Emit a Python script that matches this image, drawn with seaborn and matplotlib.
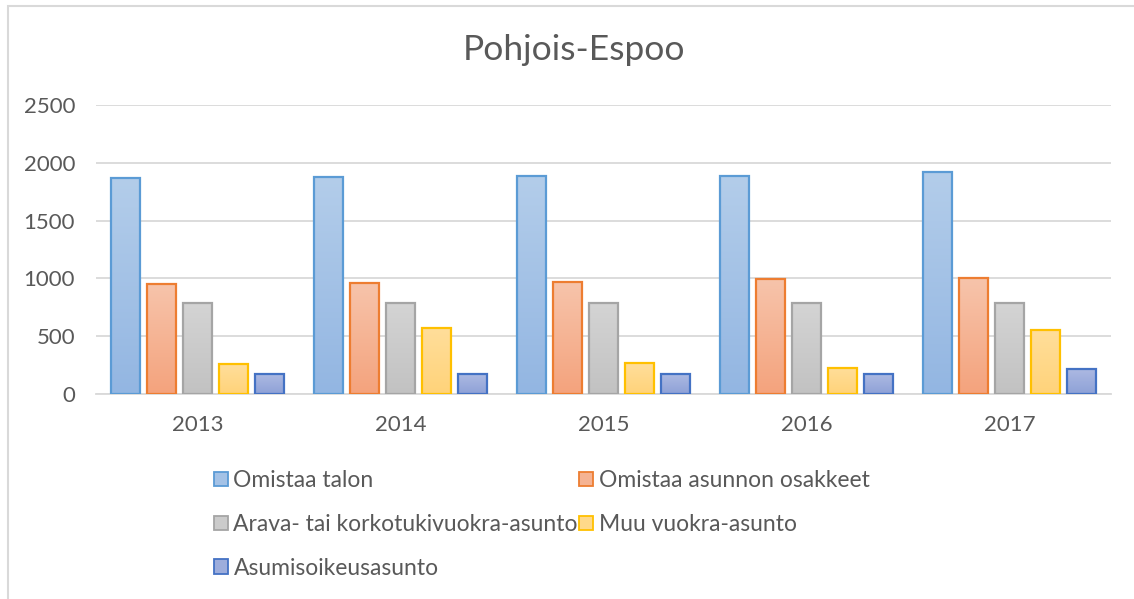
import numpy as np
import pandas as pd
import matplotlib
matplotlib.use("Agg")
import matplotlib.pyplot as plt
import matplotlib.colors as mcolors
from matplotlib.patches import Rectangle, Patch
import seaborn as sns

years = ["2013", "2014", "2015", "2016", "2017"]
series = ["Omistaa talon", "Omistaa asunnon osakkeet", "Arava- tai korkotukivuokra-asunto",
          "Muu vuokra-asunto", "Asumisoikeusasunto"]
omistaa_talon = [1865, 1879, 1882, 1882, 1922]
omistaa_osakkeet = [955, 964, 972, 998, 1007]
arava = [791, 791, 791, 791, 791]
muu_vuokra = [256, 567, 264, 227, 553]
asumisoikeus = [173, 173, 173, 173, 212]
yticks = [0, 500, 1000, 1500, 2000, 2500]
title = "Pohjois-Espoo"

fill_top = ["#B3CDEA", "#F7C4AB", "#D4D4D4", "#FFDE9A", "#ACB9E2"]
fill_bot = ["#93B6E2", "#F4A37D", "#C2C2C2", "#FFD37A", "#8EA1D7"]
fill_mid = ["#A4C2E6", "#F5B393", "#CBCBCB", "#FFD98A", "#9DADDC"]
edges = ["#5B9BD5", "#ED7D31", "#A5A5A5", "#FFC000", "#4472C4"]
text_col = "#595959"
grid_col = "#D9D9D9"

values = [omistaa_talon, omistaa_osakkeet, arava, muu_vuokra, asumisoikeus]
df = pd.DataFrame({
    "year": [y for s in series for y in years],
    "series": [s for s in series for _ in years],
    "value": [v for vals in values for v in vals],
})

sns.set_theme(style="white")
plt.rcParams["font.family"] = ["Lato", "DejaVu Sans"]

fig = plt.figure(figsize=(11.34, 5.99), dpi=100)
ax = fig.add_axes([96 / 1134, 1 - 394 / 599, (1111 - 96) / 1134, (394 - 105) / 599])

sns.barplot(data=df, x="year", y="value", hue="series", hue_order=series, order=years,
            palette=fill_mid, width=0.887, gap=0.17, ax=ax, legend=False, zorder=2)

ax.set_ylim(0, 2500)
xlim = ax.get_xlim()
for i, cont in enumerate(ax.containers):
    cmap = mcolors.LinearSegmentedColormap.from_list("g", [fill_top[i], fill_bot[i]])
    grad = cmap(np.linspace(0, 1, 64))[:, None, :3]
    for p in cont.patches:
        p.set_edgecolor(edges[i])
        p.set_linewidth(1.6)
        p.set_facecolor("none")
        p.set_zorder(3)
        x0, y0, w, h = p.get_x(), p.get_y(), p.get_width(), p.get_height()
        im = ax.imshow(grad, extent=[x0, x0 + w, y0, y0 + h], origin="upper",
                       aspect="auto", interpolation="bilinear", zorder=2)
        im.set_clip_path(p)
ax.set_xlim(xlim)
ax.set_ylim(0, 2500)

ax.set_yticks(yticks)
ax.set_yticklabels([str(t) for t in yticks])
ax.yaxis.grid(True, color=grid_col, linewidth=1.3, zorder=0)
ax.set_axisbelow(True)
for s in ["top", "right", "left"]:
    ax.spines[s].set_visible(False)
ax.spines["bottom"].set_color(grid_col)
ax.spines["bottom"].set_linewidth(1.3)
ax.tick_params(axis="both", length=0, labelsize=16, colors=text_col)
ax.tick_params(axis="y", pad=15)
ax.tick_params(axis="x", pad=15)
ax.set_xlabel("")
ax.set_ylabel("")

fig.text(574 / 1134, 1 - 50 / 599, title, ha="center", va="center", fontsize=25.5, color=text_col)

handles = [Patch(facecolor=fill_mid[i], edgecolor=edges[i], linewidth=1.3, label=series[i])
           for i in range(5)]
order = [0, 2, 4, 1, 3]
leg = fig.legend([handles[i] for i in order], [series[i] for i in order], ncol=2,
                 loc="upper left", bbox_to_anchor=(214 / 1134, 1 - 470 / 599),
                 frameon=False, fontsize=16.5, handlelength=0.6, handleheight=0.6,
                 handletextpad=0.25, labelspacing=1.0, columnspacing=0.05, borderpad=0,
                 borderaxespad=0)
for t in leg.get_texts():
    t.set_color(text_col)

fig.add_artist(Rectangle((7.5 / 1134, -0.05), 1.1, 1 - 5.5 / 599 + 0.05,
                         transform=fig.transFigure, fill=False, edgecolor=grid_col,
                         linewidth=1.5))

fig.savefig("out.png", dpi=100)
